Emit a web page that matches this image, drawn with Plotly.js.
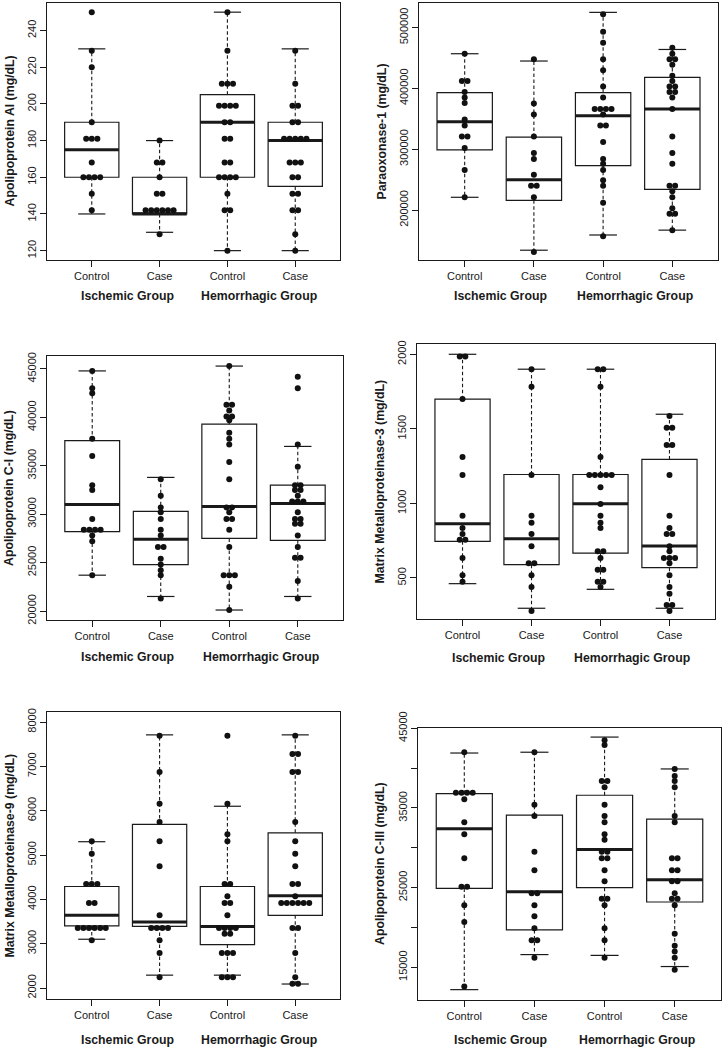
<!DOCTYPE html>
<html>
<head>
<meta charset="utf-8">
<script src="https://cdn.plot.ly/plotly-3.0.1.min.js"></script>
<style>
html,body{margin:0;padding:0;background:#fff;}
#chart{width:724px;height:1050px;}
</style>
</head>
<body>
<div id="chart"></div>
<script>
// ---------------- DATA ----------------
const categories = ["Control", "Case", "Control", "Case"];
const groupLabels = ["Ischemic Group", "Hemorrhagic Group"];

// Panel 1: Apolipoprotein AI
const apoAI_title = "Apolipoprotein AI (mg/dL)";
const apoAI_ticks = [120, 140, 160, 180, 200, 220, 240];
const apoAI_tickLabels = ["120", "140", "160", "180", "200", "220", "240"];
const apoAI_points = [
  [250, 229, 220, 190, 181, 181, 181, 168, 160, 160, 160, 160, 151, 142],
  [180, 168, 168, 160, 151, 151, 142, 142, 142, 142, 142, 142, 129],
  [250, 229, 211, 211, 211, 199, 199, 199, 199, 190, 190, 181, 181, 168, 168, 160, 160, 160, 160, 151, 142, 142, 120],
  [229, 211, 199, 199, 190, 190, 181, 181, 181, 181, 181, 168, 168, 168, 160, 160, 151, 151, 142, 142, 129, 120]
];
// [lower whisker, Q1, median, Q3, upper whisker]
const apoAI_box = [
  [140, 160, 175, 190, 230],
  [130, 140, 140, 160, 180],
  [120, 160, 190, 205, 250],
  [120, 155, 180, 190, 230]
];

// Panel 2: Paraoxonase-1
const pon1_title = "Paraoxonase-1 (mg/dL)";
const pon1_ticks = [200000, 300000, 400000, 500000];
const pon1_tickLabels = ["200000", "300000", "400000", "500000"];
const pon1_points = [
  [457000, 412000, 412000, 394000, 385000, 376000, 349000, 339000, 321000, 321000, 302000, 266000, 221000],
  [448000, 375000, 357000, 321000, 294000, 284000, 258000, 240000, 240000, 221000, 131000],
  [522000, 493000, 475000, 448000, 430000, 403000, 385000, 366000, 366000, 366000, 366000, 357000, 339000, 339000, 312000, 284000, 276000, 266000, 249000, 240000, 212000, 157000],
  [467000, 457000, 448000, 448000, 439000, 421000, 412000, 403000, 403000, 394000, 394000, 385000, 366000, 321000, 294000, 276000, 240000, 240000, 231000, 221000, 203000, 194000, 194000, 167000]
];
const pon1_box = [
  [221000, 299000, 345000, 393000, 457000],
  [134000, 216000, 250000, 320000, 445000],
  [159000, 273000, 355000, 393000, 525000],
  [167000, 234000, 366000, 418000, 464000]
];

// Panel 3: Apolipoprotein C-I
const apoCI_title = "Apolipoprotein C-I (mg/dL)";
const apoCI_ticks = [20000, 25000, 30000, 35000, 40000, 45000];
const apoCI_tickLabels = ["20000", "25000", "30000", "35000", "40000", "45000"];
const apoCI_points = [
  [44800, 43000, 42500, 37800, 36000, 33000, 32500, 29500, 28400, 28400, 28400, 28400, 27800, 27200, 23700],
  [33600, 31900, 30700, 30200, 29500, 28400, 27800, 26600, 26600, 25400, 24800, 24200, 23700, 21300],
  [45300, 41300, 41300, 40700, 40100, 40100, 39700, 38400, 37800, 37200, 35400, 33600, 30700, 30700, 30200, 29500, 29500, 28400, 26600, 23700, 23700, 23700, 22500, 20100],
  [44200, 43000, 37200, 34900, 33000, 33000, 32500, 32500, 31900, 31300, 31300, 31300, 30200, 29500, 29500, 29000, 29000, 27800, 26600, 25500, 25500, 23100, 21300]
];
const apoCI_box = [
  [23700, 28200, 31000, 37600, 44800],
  [21500, 24800, 27400, 30300, 33800],
  [20100, 27500, 30800, 39300, 45300],
  [21500, 27300, 31100, 33000, 37000]
];

// Panel 4: Matrix Metalloproteinase-3
const mmp3_title = "Matrix Metalloproteinase-3 (mg/dL)";
const mmp3_ticks = [500, 1000, 1500, 2000];
const mmp3_tickLabels = ["500", "1000", "1500", "2000"];
const mmp3_points = [
  [1985, 1985, 1700, 1312, 1190, 917, 835, 795, 757, 757, 634, 518, 475],
  [1900, 1783, 1190, 917, 871, 795, 712, 598, 598, 518, 440, 279],
  [1900, 1900, 1783, 1312, 1190, 1190, 1190, 1190, 1190, 1109, 996, 917, 871, 835, 679, 679, 634, 556, 556, 475, 475, 440],
  [1587, 1507, 1507, 1391, 1391, 1190, 917, 835, 795, 795, 712, 679, 634, 634, 634, 598, 518, 440, 395, 319, 319, 279]
];
const mmp3_box = [
  [462, 746, 864, 1699, 2000],
  [297, 589, 763, 1194, 1900],
  [424, 667, 998, 1194, 1900],
  [297, 569, 714, 1295, 1598]
];

// Panel 5: Matrix Metalloproteinase-9
const mmp9_title = "Matrix Metalloproteinase-9 (mg/dL)";
const mmp9_ticks = [2000, 3000, 4000, 5000, 6000, 7000, 8000];
const mmp9_tickLabels = ["2000", "3000", "4000", "5000", "6000", "7000", "8000"];
const mmp9_points = [
  [5308, 5030, 4346, 4346, 4346, 3917, 3917, 3353, 3353, 3353, 3353, 3353, 3353, 3075],
  [7692, 6872, 6158, 5744, 5308, 4744, 3639, 3353, 3353, 3353, 3353, 3075, 2789, 2241],
  [7692, 6158, 5466, 5308, 4346, 4346, 4068, 3917, 3917, 3639, 3353, 3353, 3353, 3353, 3226, 3226, 2789, 2789, 2789, 2241, 2241, 2241],
  [7692, 7278, 7278, 6872, 6872, 5744, 5308, 5030, 4744, 4346, 4346, 4068, 3917, 3917, 3917, 3917, 3917, 3917, 3353, 3353, 2789, 2241, 2098, 2098]
];
const mmp9_box = [
  [3100, 3400, 3640, 4290, 5300],
  [2290, 3390, 3490, 5690, 7710],
  [2290, 2980, 3390, 4290, 6100],
  [2090, 3640, 4080, 5500, 7710]
];

// Panel 6: Apolipoprotein C-III
const apoCIII_title = "Apolipoprotein C-III (mg/dL)";
const apoCIII_ticks = [15000, 20000, 25000, 30000, 35000, 40000, 45000];
const apoCIII_tickLabels = ["15000", "", "25000", "", "35000", "", "45000"];
const apoCIII_points = [
  [42000, 36900, 36900, 36900, 36900, 36100, 33200, 31700, 28700, 25100, 25100, 22800, 20700, 12600],
  [42000, 35400, 34000, 29500, 27200, 24300, 24300, 22800, 21400, 19900, 18400, 18400, 16200],
  [43500, 42900, 38400, 38400, 37600, 35400, 34000, 33200, 31700, 31000, 29500, 29500, 28700, 28700, 27200, 25800, 23600, 23600, 22800, 19900, 18400, 16200],
  [39900, 39000, 38400, 37600, 34000, 33200, 28700, 28700, 27200, 27200, 25800, 25800, 24300, 23600, 23600, 22800, 19200, 17700, 17000, 16200, 14700]
];
const apoCIII_box = [
  [12200, 24900, 32400, 36800, 41900],
  [16600, 19700, 24500, 34100, 42000],
  [16500, 25000, 29800, 36600, 43900],
  [15100, 23200, 26000, 33600, 39900]
];

// ---------------- LAYOUT / STYLE ----------------
const W = 724, H = 1050;
const FONT = "Liberation Sans, Arial, Helvetica, sans-serif";
const INK = "#1a1a1a";
const positions = [1, 2, 3, 4];
const XRANGE = [0.34, 4.66];
const BOXW = 0.8, STAPLE = 0.2, DOT_PX = 5.6;

const panels = [
  {title: apoAI_title, ticks: apoAI_ticks, labels: apoAI_tickLabels, pts: apoAI_points, box: apoAI_box,
   px: [47, 340], py: [3, 260], yr: [114.9, 255.0], gy: 296},
  {title: pon1_title, ticks: pon1_ticks, labels: pon1_tickLabels, pts: pon1_points, box: pon1_box,
   px: [419, 718], py: [3, 260], yr: [117900, 540400], gy: 296},
  {title: apoCI_title, ticks: apoCI_ticks, labels: apoCI_tickLabels, pts: apoCI_points, box: apoCI_box,
   px: [47, 343], py: [356, 620], yr: [19070, 46340], gy: 657},
  {title: mmp3_title, ticks: mmp3_ticks, labels: mmp3_tickLabels, pts: mmp3_points, box: mmp3_box,
   px: [417, 715], py: [344, 619], yr: [225, 2069], gy: 658},
  {title: mmp9_title, ticks: mmp9_ticks, labels: mmp9_tickLabels, pts: mmp9_points, box: mmp9_box,
   px: [47, 340], py: [712, 999], yr: [1752, 8226], gy: 1040},
  {title: apoCIII_title, ticks: apoCIII_ticks, labels: apoCIII_tickLabels, pts: apoCIII_points, box: apoCIII_box,
   px: [418, 721], py: [728, 1000], yr: [10900, 45040], gy: 1040}
];

// centred beeswarm: tied values are laid side by side in a row
function swarm(values, center, step) {
  const counts = {}, seen = {};
  values.forEach(v => { counts[v] = (counts[v] || 0) + 1; });
  return values.map(v => {
    const n = counts[v];
    const i = (seen[v] === undefined) ? 0 : seen[v] + 1;
    seen[v] = i;
    return center + (i - (n - 1) / 2) * step;
  });
}

const traces = [];
const layout = {
  width: W, height: H,
  margin: {l: 0, r: 0, t: 0, b: 0},
  paper_bgcolor: "#fff", plot_bgcolor: "#fff",
  showlegend: false,
  font: {family: FONT, color: INK},
  annotations: []
};

panels.forEach((p, k) => {
  const n = k + 1;
  const xa = "x" + (n === 1 ? "" : n), ya = "y" + (n === 1 ? "" : n);
  const xKey = "xaxis" + (n === 1 ? "" : n), yKey = "yaxis" + (n === 1 ? "" : n);
  const xdom = [p.px[0] / W, p.px[1] / W];
  const ydom = [1 - p.py[1] / H, 1 - p.py[0] / H];

  layout[xKey] = {
    domain: xdom, anchor: ya, range: XRANGE,
    tickvals: positions, ticktext: categories,
    ticks: "outside", ticklen: 6, tickwidth: 1, tickcolor: INK,
    showline: true, mirror: true, linecolor: INK, linewidth: 1,
    showgrid: false, zeroline: false, fixedrange: true,
    tickfont: {family: FONT, size: 11, color: INK}
  };
  layout[yKey] = {
    domain: ydom, anchor: xa, range: p.yr,
    tickvals: p.ticks, ticktext: p.labels, tickangle: -90,
    ticks: "outside", ticklen: 6, tickwidth: 1, tickcolor: INK,
    showline: true, mirror: true, linecolor: INK, linewidth: 1,
    showgrid: false, zeroline: false, fixedrange: true,
    tickfont: {family: FONT, size: 11, color: INK}
  };

  // boxes (Q1-median-Q3) drawn by the library's box trace
  traces.push({
    type: "box", xaxis: xa, yaxis: ya,
    x: positions,
    q1: p.box.map(b => b[1]), median: p.box.map(b => b[2]), q3: p.box.map(b => b[3]),
    lowerfence: p.box.map(b => b[1]), upperfence: p.box.map(b => b[3]),
    width: BOXW, whiskerwidth: 0, boxpoints: false,
    fillcolor: "rgba(255,255,255,0)", line: {color: INK, width: 1.2},
    hoverinfo: "skip"
  });

  const mx = [], my = [], wx = [], wy = [], sx = [], sy = [];
  p.box.forEach((b, i) => {
    const g = positions[i];
    mx.push(g - BOXW / 2, g + BOXW / 2, null); my.push(b[2], b[2], null);
    wx.push(g, g, null, g, g, null); wy.push(b[3], b[4], null, b[1], b[0], null);
    sx.push(g - STAPLE, g + STAPLE, null, g - STAPLE, g + STAPLE, null);
    sy.push(b[4], b[4], null, b[0], b[0], null);
  });
  traces.push({type: "scatter", mode: "lines", xaxis: xa, yaxis: ya, x: wx, y: wy,
    line: {color: INK, width: 1.1, dash: "3.5px,2.5px"}, hoverinfo: "skip"});
  traces.push({type: "scatter", mode: "lines", xaxis: xa, yaxis: ya, x: sx, y: sy,
    line: {color: INK, width: 1.2}, hoverinfo: "skip"});
  traces.push({type: "scatter", mode: "lines", xaxis: xa, yaxis: ya, x: mx, y: my,
    line: {color: INK, width: 3}, hoverinfo: "skip"});

  // swarm points
  const pxPerUnit = (p.px[1] - p.px[0]) / (XRANGE[1] - XRANGE[0]);
  const step = DOT_PX / pxPerUnit;
  const allX = [], allY = [];
  p.pts.forEach((vals, i) => {
    const xs = swarm(vals, positions[i], step);
    xs.forEach((x, j) => { allX.push(x); allY.push(vals[j]); });
  });
  traces.push({type: "scatter", mode: "markers", xaxis: xa, yaxis: ya, x: allX, y: allY,
    marker: {color: "#111", size: 6, line: {width: 0}}, hoverinfo: "skip"});

  // group labels
  [[1.52, groupLabels[0]], [3.46, groupLabels[1]]].forEach(([gx, txt]) => {
    layout.annotations.push({
      xref: xa, yref: "paper", x: gx, y: 1 - p.gy / H,
      xanchor: "center", yanchor: "middle", showarrow: false,
      text: "<b>" + txt + "</b>", font: {family: FONT, size: 12.3, color: INK}
    });
  });
  // y-axis title
  layout.annotations.push({
    xref: "paper", yref: "paper",
    x: (p.px[0] - 38) / W, y: 1 - ((p.py[0] + p.py[1]) / 2) / H,
    xanchor: "center", yanchor: "middle", textangle: -90, showarrow: false,
    text: "<b>" + p.title + "</b>", font: {family: FONT, size: 12.3, color: INK}
  });
});

Plotly.newPlot("chart", traces, layout, {staticPlot: true, displayModeBar: false});
</script>
</body>
</html>
